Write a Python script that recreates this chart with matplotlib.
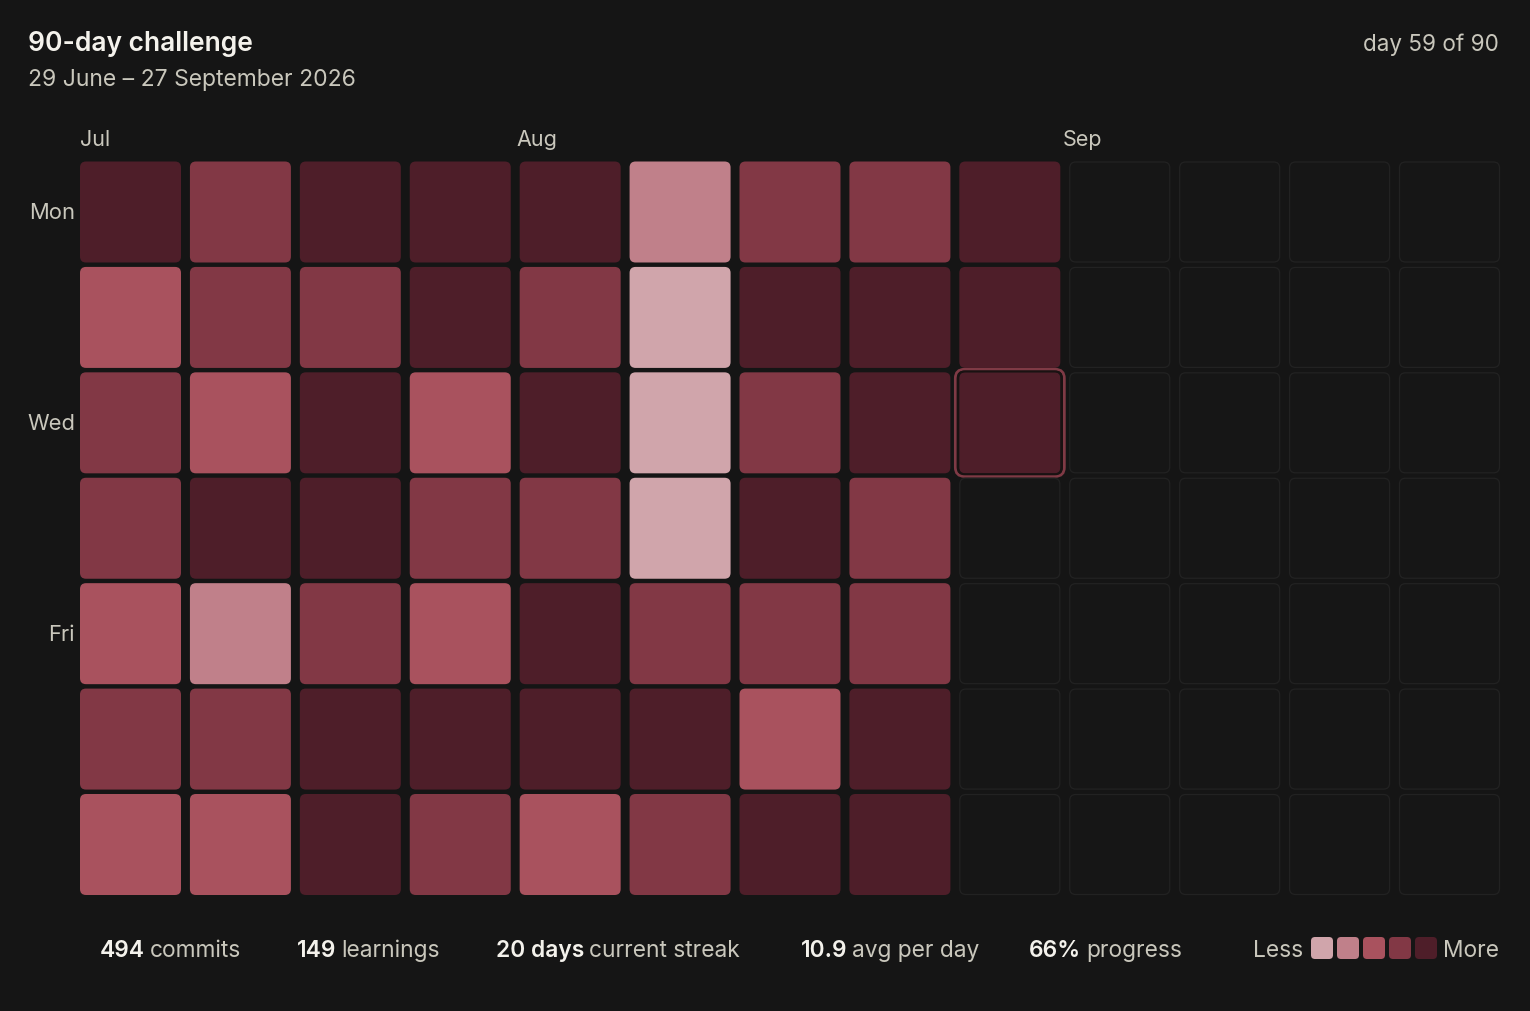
import matplotlib
matplotlib.use("Agg")
import matplotlib.pyplot as plt
from matplotlib.patches import FancyBboxPatch

plt.rcParams['font.family'] = ['Inter', 'DejaVu Sans']

# data
weekdays = ['Mon', 'Tue', 'Wed', 'Thu', 'Fri', 'Sat', 'Sun']
shown_days = ['Mon', 'Wed', 'Fri']
months = ['Jul', 'Aug', 'Sep']
month_weeks = [0, 4, 9]
n_weeks = 13
# level index into level_colors (Less -> More), None = day not reached yet
levels = {
    'Mon': [4, 3, 4, 4, 4, 1, 3, 3, 4, None, None, None, None],
    'Tue': [2, 3, 3, 4, 3, 0, 4, 4, 4, None, None, None, None],
    'Wed': [3, 2, 4, 2, 4, 0, 3, 4, 4, None, None, None, None],
    'Thu': [3, 4, 4, 3, 3, 0, 4, 3, None, None, None, None, None],
    'Fri': [2, 1, 3, 2, 4, 3, 3, 3, None, None, None, None, None],
    'Sat': [3, 3, 4, 4, 4, 4, 2, 4, None, None, None, None, None],
    'Sun': [2, 2, 4, 3, 2, 3, 4, 4, None, None, None, None, None],
}
level_colors = ['#d0a5ab', '#c0808a', '#a9525e', '#823845', '#4e1e29']
current_day = 59
total_days = 90
stats = [('494', 'commits'), ('149', 'learnings'), ('20 days', 'current streak'),
         ('10.9', 'avg per day'), ('66%', 'progress')]

bg = '#151515'
white = '#f4f2ec'
grey = '#c9c7bc'

W, H = 1530, 1012
fig = plt.figure(figsize=(W / 100, H / 100), dpi=100, facecolor=bg)
ax = fig.add_axes([0, 0, 1, 1])
ax.set_xlim(0, W)
ax.set_ylim(H, 0)
ax.axis('off')
ax.set_facecolor(bg)

# grid geometry (pixels)
gx0, gx1 = 80, 1500
gy0, gy1 = 162.5, 896
cell = 101
pitch_x = (gx1 - gx0 - cell) / (n_weeks - 1)
pitch_y = (gy1 - gy0 - cell) / 6

today_idx = current_day - 1
today_col, today_row = today_idx // 7, today_idx % 7

for r, day in enumerate(weekdays):
    for c, lv in enumerate(levels[day]):
        x = gx0 + c * pitch_x
        y = gy0 + r * pitch_y
        if lv is None:
            p = FancyBboxPatch((x + 0.5, y + 0.5), cell - 1, cell - 1,
                               boxstyle='round,pad=0,rounding_size=6',
                               fc='#161616', ec='#222222', lw=0.9)
        else:
            p = FancyBboxPatch((x, y), cell, cell,
                               boxstyle='round,pad=0,rounding_size=6',
                               fc=level_colors[lv], ec='none')
        ax.add_patch(p)
        if c == today_col and r == today_row:
            ax.add_patch(FancyBboxPatch((x - 4, y - 3), cell + 8, cell + 6,
                                        boxstyle='round,pad=0,rounding_size=9',
                                        fc='none', ec='#7f3a45', lw=2.0))
            ax.add_patch(FancyBboxPatch((x - 1.5, y - 1), cell + 3, cell + 2,
                                        boxstyle='round,pad=0,rounding_size=7',
                                        fc='none', ec='#1a1212', lw=1.4))

# labels
for day in shown_days:
    r = weekdays.index(day)
    ax.text(75, gy0 + r * pitch_y + cell / 2, day, ha='right', va='center',
            fontsize=15.8, color=grey)

grid_w = gx1 - gx0
for m, wk in zip(months, month_weeks):
    ax.text(gx0 + wk / n_weeks * grid_w, 146, m, ha='left', va='baseline',
            fontsize=15.5, color=grey)

ax.text(28, 51, '90-day challenge', ha='left', va='baseline', fontsize=19,
        fontweight='semibold', color=white)
ax.text(28, 86, '29 June \u2013 27 September 2026', ha='left', va='baseline',
        fontsize=16.5, color=grey)
ax.text(1499, 51, f'day {current_day} of {total_days}', ha='right',
        va='baseline', fontsize=16.2, color=grey)

# footer stats
renderer = fig.canvas.get_renderer()
stat_x = [100, 297, 496, 801, 1029]
fy = 957
for x, (num, lab) in zip(stat_x, stats):
    t = ax.text(x, fy, num, ha='left', va='baseline', fontsize=16.4,
                fontweight='semibold', color=white)
    x2 = t.get_window_extent(renderer).x1 + 5
    ax.text(x2, fy, lab, ha='left', va='baseline', fontsize=16.4, color=grey)

# legend
sq, sq_pitch, lx0 = 22, 26, 1311
for i, col in enumerate(level_colors):
    ax.add_patch(FancyBboxPatch((lx0 + i * sq_pitch, 938), sq, sq,
                                boxstyle='round,pad=0,rounding_size=4',
                                fc=col, ec='none'))
ax.text(lx0 - 8, fy, 'Less', ha='right', va='baseline', fontsize=16.4, color=grey)
ax.text(1499, fy, 'More', ha='right', va='baseline', fontsize=16.4, color=grey)

fig.savefig('out.png', dpi=100, facecolor=bg)
